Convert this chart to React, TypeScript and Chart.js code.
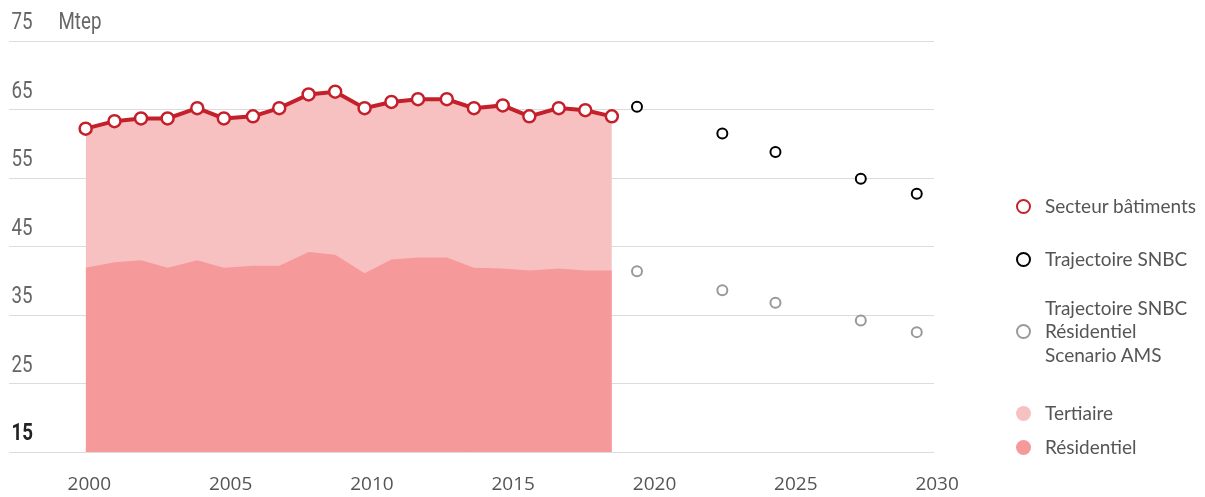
import React, { useEffect, useRef } from "react";
import { Chart, registerables } from "chart.js";

Chart.register(...registerables);

// Historical series (x in years)
const historyX = [
  1999.87, 2000.89, 2001.83, 2002.77, 2003.82, 2004.76, 2005.79, 2006.72, 2007.76, 2008.7,
  2009.74, 2010.69, 2011.63, 2012.65, 2013.61, 2014.63, 2015.57, 2016.61, 2017.55, 2018.49,
];
const batiments = [
  62.2, 63.3, 63.7, 63.7, 65.2, 63.7, 64.0, 65.2, 67.2, 67.6,
  65.2, 66.1, 66.5, 66.5, 65.2, 65.6, 64.0, 65.2, 64.9, 64.0,
];
const residentiel = [
  41.9, 42.7, 43.0, 41.9, 43.0, 41.9, 42.2, 42.2, 44.2, 43.8,
  41.1, 43.1, 43.4, 43.4, 41.9, 41.8, 41.5, 41.8, 41.5, 41.5,
];

// Projections
const futureX = [2019.38, 2022.4, 2024.28, 2027.3, 2029.28];
const snbc = [65.4, 61.5, 58.8, 54.9, 52.7];
const snbcResidentiel = [41.4, 38.6, 36.8, 34.2, 32.5];

// Axis ticks
const xTicks = [2000, 2005, 2010, 2015, 2020, 2025, 2030];
const yTicks = [15, 25, 35, 45, 55, 65, 75];
const unitLabel = "Mtep";

const RED = "#c4202b";
const LIGHT = "#f8c1c1";
const DARK = "#f5999a";

const legendItems = [
  { label: ["Secteur bâtiments"], kind: "ring", color: RED, y: 206 },
  { label: ["Trajectoire SNBC"], kind: "ring", color: "#000", y: 259 },
  { label: ["Trajectoire SNBC", "Résidentiel", "Scenario AMS"], kind: "ring", color: "#999", y: 331 },
  { label: ["Tertiaire"], kind: "dot", color: LIGHT, y: 413 },
  { label: ["Résidentiel"], kind: "dot", color: DARK, y: 447 },
];

const pts = (xs: number[], ys: number[]) => xs.map((x, i) => ({ x, y: ys[i] }));

export default function App() {
  const ref = useRef<HTMLCanvasElement | null>(null);

  useEffect(() => {
    document.body.style.margin = "0";
    const canvas = ref.current;
    if (!canvas) return;

    // Condensed y-axis labels (drawn from the y scale's own ticks)
    const yLabelPlugin = {
      id: "yLabels",
      afterDraw(chart: any) {
        const { ctx, chartArea, scales } = chart;
        const sx = 0.78;
        ctx.save();
        ctx.textBaseline = "middle";
        ctx.textAlign = "left";
        scales.y.ticks.forEach((t: any) => {
          const y = scales.y.getPixelForValue(t.value) - 18;
          const bold = t.value === 15;
          ctx.font = `${bold ? "bold " : ""}24px Roboto, sans-serif`;
          ctx.fillStyle = bold ? "#222" : "#666";
          ctx.save();
          ctx.translate(chartArea.left + 3, y);
          ctx.scale(sx, 1);
          ctx.fillText(String(t.value), 0, 0);
          if (t.value === 75) {
            ctx.font = "24px Roboto, sans-serif";
            ctx.fillText(unitLabel, 47 / sx, 0);
          }
          ctx.restore();
        });
        ctx.restore();
      },
    };

    const chart = new Chart(canvas, {
      type: "line",
      data: {
        datasets: [
          {
            label: "Secteur bâtiments",
            data: pts(historyX, batiments),
            borderColor: RED,
            borderWidth: 4,
            pointRadius: 6,
            pointBorderWidth: 2.5,
            pointBackgroundColor: "#fff",
            pointBorderColor: RED,
            fill: false,
            tension: 0,
            order: 0,
          },
          {
            label: "Trajectoire SNBC",
            data: pts(futureX, snbc),
            showLine: false,
            pointRadius: 5,
            pointBorderWidth: 2,
            pointBackgroundColor: "#fff",
            pointBorderColor: "#000",
            order: 1,
          },
          {
            label: "Trajectoire SNBC Résidentiel Scenario AMS",
            data: pts(futureX, snbcResidentiel),
            showLine: false,
            pointRadius: 5,
            pointBorderWidth: 2,
            pointBackgroundColor: "#fff",
            pointBorderColor: "#999",
            order: 2,
          },
          {
            label: "Résidentiel",
            data: pts(historyX, residentiel),
            borderWidth: 0,
            borderColor: "rgba(0,0,0,0)",
            backgroundColor: DARK,
            pointRadius: 0,
            fill: "start",
            tension: 0,
            order: 3,
          },
          {
            label: "Tertiaire",
            data: pts(historyX, batiments),
            borderWidth: 0,
            borderColor: "rgba(0,0,0,0)",
            backgroundColor: LIGHT,
            pointRadius: 0,
            fill: "start",
            tension: 0,
            order: 4,
          },
        ],
      },
      options: {
        animation: false,
        responsive: true,
        maintainAspectRatio: false,
        layout: { padding: { left: 6, right: 271, top: 41, bottom: 0 } },
        plugins: {
          legend: { display: false },
          tooltip: { enabled: false },
        },
        scales: {
          x: {
            type: "linear",
            min: 1997.14,
            max: 2029.89,
            grid: { display: false, drawTicks: false },
            border: { display: false },
            afterBuildTicks: (scale: any) => {
              scale.ticks = xTicks.map((v) => ({ value: v }));
            },
            afterFit: (scale: any) => {
              scale.height = 45;
            },
            ticks: {
              padding: 21,
              color: "#555",
              font: { family: "'Open Sans', sans-serif", size: 19 },
              callback: (v: any) => String(v),
              maxRotation: 0,
              autoSkip: false,
            },
          },
          y: {
            type: "linear",
            min: 15,
            max: 75,
            afterBuildTicks: (scale: any) => {
              scale.ticks = yTicks.map((v) => ({ value: v }));
            },
            afterFit: (scale: any) => {
              scale.width = 0;
            },
            grid: { color: "#dcdcdc", lineWidth: 1, drawTicks: false },
            border: { display: false },
            ticks: { display: false },
          },
        },
      },
      plugins: [yLabelPlugin],
    });

    return () => chart.destroy();
  }, []);

  return (
    <div style={{ position: "relative", width: 1205, height: 497, overflow: "hidden" }}>
      <canvas ref={ref} />
      {legendItems.map((item, i) => {
        const lh = 23.5;
        const h = item.label.length * lh;
        return (
          <div key={i}>
            <div
              style={{
                position: "absolute",
                left: 1023 - 7.5,
                top: item.y - 7.5,
                width: 15,
                height: 15,
                boxSizing: "border-box",
                borderRadius: "50%",
                border: item.kind === "ring" ? `2.5px solid ${item.color}` : "none",
                background: item.kind === "ring" ? "#fff" : item.color,
              }}
            />
            <div
              style={{
                position: "absolute",
                left: 1045,
                top: item.y - h / 2,
                lineHeight: `${lh}px`,
                fontFamily: "Lato, sans-serif",
                fontSize: 19,
                color: "#555",
                whiteSpace: "nowrap",
              }}
            >
              {item.label.map((l, j) => (
                <div key={j}>{l}</div>
              ))}
            </div>
          </div>
        );
      })}
    </div>
  );
}
